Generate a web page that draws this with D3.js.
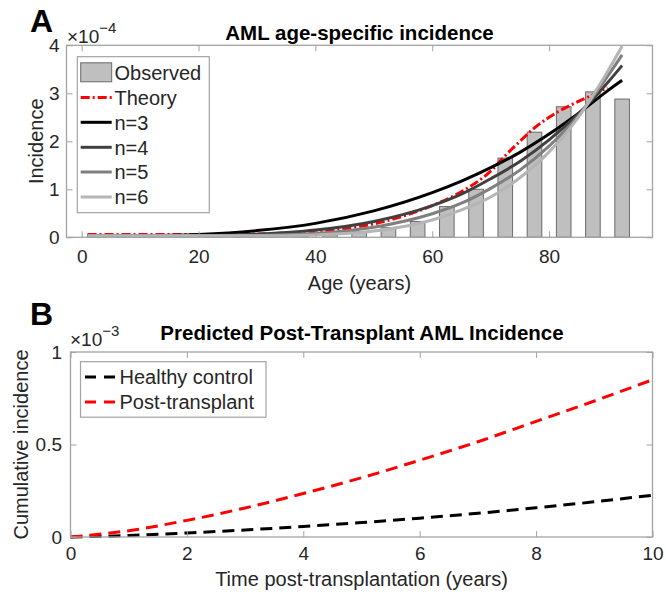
<!DOCTYPE html>
<html><head><meta charset="utf-8">
<script src="https://cdn.jsdelivr.net/npm/d3@7"></script>
<style>body{margin:0;background:#fff}svg{display:block;font-family:"Liberation Sans",Arial,Helvetica,sans-serif}</style>
</head><body><svg id="c" width="666" height="598"></svg>
<script>
// ---------- Panel A data (incidence in units of 1e-4) ----------
const barAges   = [2.5,7.5,12.5,17.5,22.5,27.5,32.5,37.5,42.5,47.5,52.5,57.5,62.5,67.5,72.5,77.5,82.5,87.5,92.5];
const barValues = [0.01,0.005,0.006,0.008,0.01,0.012,0.016,0.025,0.05,0.12,0.2,0.33,0.64,1.0,1.65,2.19,2.72,3.03,2.88];

const theoryAges   = [1,10,20,30,35,40,45,50,55,60,65,70,72.5,75,77.5,80,82.5,85,88,90];
const theoryValues = [0.06,0.06,0.06,0.07,0.09,0.12,0.18,0.28,0.44,0.66,0.95,1.38,1.7,2.0,2.28,2.5,2.68,2.83,3.0,3.12];

const modelAges = [1,10,20,30,40,50,60,65,70,75,80,85,90,92.5];
const n3Values = [0.03,0.035,0.06,0.14,0.29,0.55,0.93,1.17,1.45,1.77,2.15,2.58,3.05,3.27];
const n4Values = [0.03,0.03,0.035,0.065,0.15,0.33,0.66,0.9,1.22,1.58,2.03,2.57,3.22,3.58];
const n5Values = [0.03,0.03,0.03,0.04,0.08,0.21,0.49,0.71,1.02,1.4,1.9,2.53,3.35,3.8];
const n6Values = [0.03,0.03,0.03,0.03,0.05,0.13,0.36,0.57,0.84,1.24,1.78,2.5,3.45,3.98];
const modelNames = ["n=3","n=4","n=5","n=6"];

const ageTicks = [0,20,40,60,80];
const incTicks = [0,1,2,3,4];

// ---------- Panel B data (cumulative incidence in units of 1e-3) ----------
const years = [0,1,2,3,4,5,6,7,8,9,10];
const healthyValues = [0,0.008,0.022,0.038,0.057,0.078,0.102,0.128,0.158,0.19,0.226];
const transplantValues = [0,0.034,0.09,0.157,0.235,0.32,0.415,0.515,0.625,0.735,0.85];
const yearTicks = [0,2,4,6,8,10];
const cumTicks = [0,0.5,1];

const svg = d3.select("#c");
const txt = "#262626", boxCol = "#a3a3a3";
const FS = 19;

function frame(g, x, y, xt, yt, xPad, yPad, yFmt) {
  const [x0,x1] = x.range(), [y0,y1] = y.range();
  g.append("g").attr("transform",`translate(0,${y0})`)
    .call(d3.axisBottom(x).tickValues(xt).tickSize(-6).tickPadding(xPad))
    .call(s=>s.select(".domain").remove());
  g.append("g").attr("transform",`translate(0,${y1})`)
    .call(d3.axisTop(x).tickValues(xt).tickSize(-6).tickFormat(""))
    .call(s=>s.select(".domain").remove());
  g.append("g").attr("transform",`translate(${x0},0)`)
    .call(d3.axisLeft(y).tickValues(yt).tickSize(-6).tickPadding(yPad).tickFormat(yFmt))
    .call(s=>s.select(".domain").remove());
  g.append("g").attr("transform",`translate(${x1},0)`)
    .call(d3.axisRight(y).tickValues(yt).tickSize(-6).tickFormat(""))
    .call(s=>s.select(".domain").remove());
  g.selectAll(".tick line").attr("stroke",boxCol).attr("stroke-width",1);
  g.selectAll(".tick text").attr("fill",txt).style("font-size",FS+"px").style("font-family",'"Liberation Sans",Arial,sans-serif');
  g.append("rect").attr("x",x0).attr("y",y1).attr("width",x1-x0).attr("height",y0-y1)
    .attr("fill","none").attr("stroke",boxCol).attr("stroke-width",1.3);
}

// ================= Panel A =================
const xA = d3.scaleLinear().domain([-2.6,97.7]).range([66.5,652.5]);
const yA = d3.scaleLinear().domain([0,4]).range([237.3,45.3]);
const gA = svg.append("g");

const bw = xA(2.5)-xA(0);
gA.selectAll("rect.bar").data(barAges).join("rect").attr("class","bar")
  .attr("x",(d)=>xA(d)-bw/2).attr("width",bw)
  .attr("y",(d,i)=>yA(barValues[i])).attr("height",(d,i)=>yA(0)-yA(barValues[i]))
  .attr("fill","#bfbfbf").attr("stroke","#6b6b6b").attr("stroke-width",1);

const lineA = (ages, vals) => d3.line().x((d,i)=>xA(ages[i])).y(d=>yA(d)).curve(d3.curveMonotoneX)(vals);

gA.append("path").attr("d",lineA(theoryAges,theoryValues)).attr("fill","none")
  .attr("stroke","#ff0000").attr("stroke-width",3).attr("stroke-dasharray","9,3,2,3");

const modelSeries = [n3Values,n4Values,n5Values,n6Values];
const modelColors = ["#000000","#404040","#7f7f7f","#b5b5b5"];
modelSeries.forEach((vals,k)=>{
  gA.append("path").attr("d",lineA(modelAges,vals)).attr("fill","none")
    .attr("stroke",modelColors[k]).attr("stroke-width",3);
});

frame(gA, xA, yA, ageTicks, incTicks, 12, 7, d3.format("d"));

// Legend A
const legA = gA.append("g");
legA.append("rect").attr("x",77.3).attr("y",56.7).attr("width",132).attr("height",156)
  .attr("fill","#fff").attr("stroke",boxCol).attr("stroke-width",1.2);
const legAY = [72.3,97.5,122.3,147.3,172,197];
legA.append("rect").attr("x",80.7).attr("y",legAY[0]-9.5).attr("width",31).attr("height",19)
  .attr("fill","#bfbfbf").attr("stroke","#6b6b6b");
legA.append("line").attr("x1",80.7).attr("x2",111.7).attr("y1",legAY[1]).attr("y2",legAY[1])
  .attr("stroke","#ff0000").attr("stroke-width",3).attr("stroke-dasharray","9,3,2,3");
modelColors.forEach((c,k)=>{
  legA.append("line").attr("x1",80.7).attr("x2",111.7).attr("y1",legAY[k+2]).attr("y2",legAY[k+2])
    .attr("stroke",c).attr("stroke-width",3);
});
["Observed","Theory"].concat(modelNames).forEach((t,k)=>{
  legA.append("text").attr("x",114.5).attr("y",legAY[k]).attr("dy","0.36em")
    .attr("fill",txt).style("font-size","20px").text(t);
});

// Titles and labels A
svg.append("text").attr("x",30).attr("y",32).style("font-size","32px").style("font-weight","bold").attr("fill","#000").text("A");
svg.append("text").attr("x",359.5).attr("y",40).attr("text-anchor","middle").style("font-size","20.5px")
  .style("font-weight","bold").attr("fill","#000").text("AML age-specific incidence");
const expA = svg.append("text").attr("x",67).attr("y",43).attr("fill",txt).style("font-size","19px");
expA.append("tspan").text("×10");
expA.append("tspan").attr("dy",-10).style("font-size","15px").text("−4");
svg.append("text").attr("x",359.5).attr("y",290).attr("text-anchor","middle").attr("fill",txt)
  .style("font-size","20px").text("Age (years)");
svg.append("text").attr("transform","translate(43,141.3) rotate(-90)").attr("text-anchor","middle")
  .attr("fill",txt).style("font-size","20px").text("Incidence");

// ================= Panel B =================
const xB = d3.scaleLinear().domain([0,10]).range([70.5,652.5]);
const yB = d3.scaleLinear().domain([0,1]).range([537,352]);
const gB = svg.append("g");
const lineB = d3.line().x((d,i)=>xB(years[i])).y(d=>yB(d)).curve(d3.curveMonotoneX);
gB.append("path").attr("d",lineB(healthyValues)).attr("fill","none").attr("stroke","#000")
  .attr("stroke-width",3).attr("stroke-dasharray","12,7");
gB.append("path").attr("d",lineB(transplantValues)).attr("fill","none").attr("stroke","#ff0000")
  .attr("stroke-width",3).attr("stroke-dasharray","12,7");

frame(gB, xB, yB, yearTicks, cumTicks, 10, 8.5, d=>d===0.5?"0.5":d3.format("d")(d));

const legB = gB.append("g");
legB.append("rect").attr("x",80.5).attr("y",361.7).attr("width",185.5).attr("height",55.5)
  .attr("fill","#fff").attr("stroke",boxCol).attr("stroke-width",1.2);
const legBY = [377,402];
[["#000","Healthy control"],["#ff0000","Post-transplant"]].forEach(([c,t],k)=>{
  legB.append("line").attr("x1",85).attr("x2",116).attr("y1",legBY[k]).attr("y2",legBY[k])
    .attr("stroke",c).attr("stroke-width",3).attr("stroke-dasharray","11,8");
  legB.append("text").attr("x",119.5).attr("y",legBY[k]).attr("dy","0.36em").attr("fill",txt)
    .style("font-size","20px").text(t);
});

svg.append("text").attr("x",30).attr("y",325).style("font-size","32px").style("font-weight","bold").attr("fill","#000").text("B");
svg.append("text").attr("x",362).attr("y",340).attr("text-anchor","middle").style("font-size","20.5px")
  .style("font-weight","bold").attr("fill","#000").text("Predicted Post-Transplant AML Incidence");
const expB = svg.append("text").attr("x",70).attr("y",346).attr("fill",txt).style("font-size","19px");
expB.append("tspan").text("×10");
expB.append("tspan").attr("dy",-10).style("font-size","15px").text("−3");
svg.append("text").attr("x",361.5).attr("y",586).attr("text-anchor","middle").attr("fill",txt)
  .style("font-size","20px").text("Time post-transplantation (years)");
svg.append("text").attr("transform","translate(28,444.5) rotate(-90)").attr("text-anchor","middle")
  .attr("fill",txt).style("font-size","20px").text("Cumulative incidence");
</script></body></html>
